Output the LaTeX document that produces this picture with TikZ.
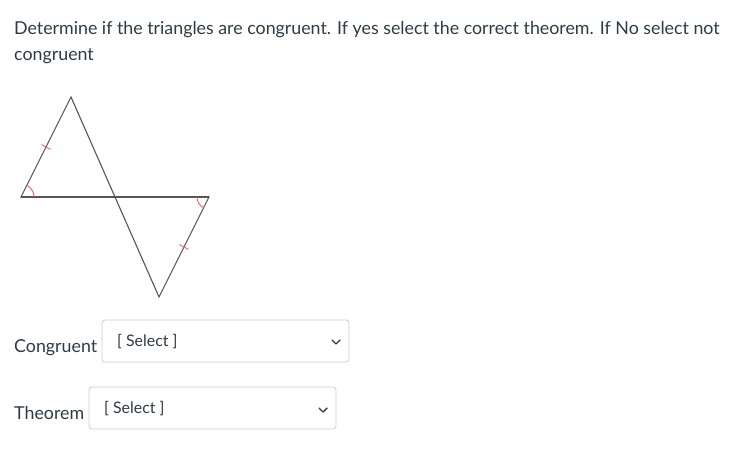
\documentclass[tikz,border=0pt]{standalone}
\usepackage{fontspec}
\setmainfont{Lato}
\usetikzlibrary{positioning,calc}
\definecolor{txt}{HTML}{2D3B45}
\definecolor{edge}{HTML}{555555}
\definecolor{markred}{HTML}{FF5A5A}
\definecolor{boxline}{HTML}{C7CDD1}

\begin{document}
\begin{tikzpicture}[x=1pt,y=-1pt,
  every node/.style={text=txt, inner sep=0pt},
  big/.style={anchor=west, font=\fontsize{17.8}{21}\selectfont},
  small/.style={anchor=west, font=\fontsize{15.9}{19}\selectfont},
  side/.style={edge, line width=1.1pt, line join=miter},
  tick/.style={markred, line width=.9pt},
  selbox/.style={draw=boxline, line width=.8pt, rounded corners=3pt, fill=white},
  chev/.style={txt, line width=1.4pt, line cap=round, line join=round}]
\useasboundingbox (0,0) rectangle (751,457);

% question text
\node[big] (q1) at (14,29.5)
  {Determine if the triangles are congruent. If yes select the correct theorem. If No select not};
\node[big] (q2) at (14,56.5) {congruent};

% TRIANGLES
\coordinate (T) at (71,97);
\coordinate (L) at (21,197);
\coordinate (R) at (209,197);
\coordinate (B) at (159,297);
\draw[side] (L) -- (T) -- (B) -- (R) -- cycle;
\draw[side] (L) -- (R);

% equal sides
\draw[tick] ($(T)!.5!(L)$) ++(-4.5,-2.3) -- ++(9,4.6);
\draw[tick] ($(R)!.5!(B)$) ++(-4.5,-2.3) -- ++(9,4.6);
% equal angles
\draw[tick] (L) ++(13,0) arc (0:-63.4:13);
\draw[tick] (R) ++(-12,0) arc (180:116.6:12);

% DROPDOWNS
\node[big] (c) at (14,347.5) {Congruent};
\draw[selbox] (102,320) rectangle (349,362);
\node[small] (cs) at (117,342) {[ Select ]};
\draw[chev] (332,340) -- (336,344) -- (340,340);

\node[big] (t) at (14,413.5) {Theorem};
\draw[selbox] (89,387) rectangle (336,429);
\node[small] (ts) at (104,409) {[ Select ]};
\draw[chev] (319,408) -- (323,412) -- (327,408);
\end{tikzpicture}
\end{document}
